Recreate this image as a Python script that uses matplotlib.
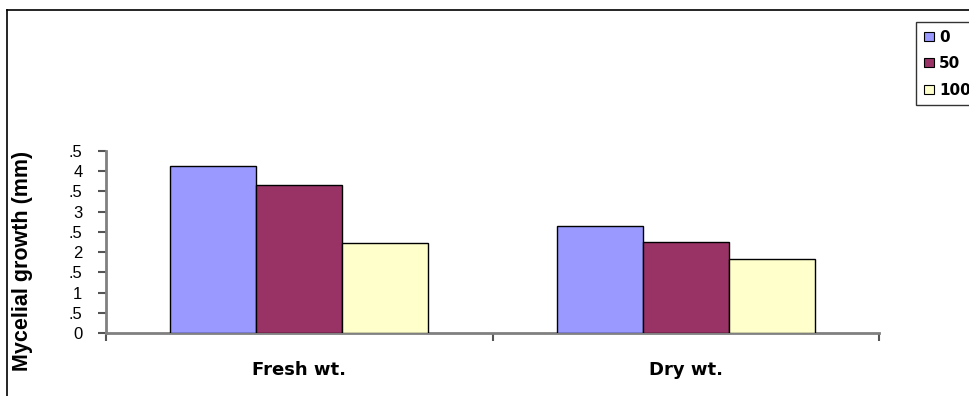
import matplotlib
matplotlib.use("Agg")
import matplotlib.pyplot as plt
from matplotlib.lines import Line2D
import numpy as np

# Data
categories = ["Fresh wt.", "Dry wt."]
series_names = ["0", "50", "100"]
values_0 = [4.13, 2.65]
values_50 = [3.66, 2.26]
values_100 = [2.23, 1.83]
ytick_values = [0, 0.5, 1, 1.5, 2, 2.5, 3, 3.5, 4, 4.5]
ytick_labels = ["0", ".5", "1", ".5", "2", ".5", "3", ".5", "4", ".5"]

colors = ["#9999FF", "#993366", "#FFFFCC"]
series = [values_0, values_50, values_100]

W, H = 969, 396
fig = plt.figure(figsize=(W / 100, H / 100), dpi=100)
fig.patch.set_facecolor("white")

ax = fig.add_axes([106 / W, 1 - 333 / H, (879 - 106) / W, (333 - 151) / H])

x = np.arange(len(categories))
bw = 0.2225
for i, (vals, c, name) in enumerate(zip(series, colors, series_names)):
    ax.bar(x + (i - 1) * bw, vals, width=bw, color=c, edgecolor="black",
           linewidth=1.0, label=name, zorder=3)

ax.set_xlim(-0.5, len(categories) - 0.5)
ax.set_ylim(0, 4.5)

for s in ["top", "right"]:
    ax.spines[s].set_visible(False)
for s in ["left", "bottom"]:
    ax.spines[s].set_color("#808080")
    ax.spines[s].set_linewidth(2.0)

ax.set_yticks(ytick_values)
ax.set_yticklabels(ytick_labels, fontsize=12, family="Liberation Sans")
ax.tick_params(axis="y", direction="out", length=6, width=1.5, color="#555555", pad=11)

ax.set_xticks(x)
ax.set_xticklabels(categories, fontsize=13, fontweight="bold", family="DejaVu Sans")
ax.tick_params(axis="x", which="major", length=0, pad=20)
ax.set_xticks(np.arange(-0.5, len(categories), 1.0), minor=True)
ax.tick_params(axis="x", which="minor", direction="out", length=6, width=1.5, color="#555555")

# Axis title
fig.text(23 / W, 1 - 261 / H, "Mycelial growth (mm)", rotation=90,
         ha="center", va="center", fontsize=15.5, fontweight="bold",
         family="Liberation Sans")

# Legend
handles = [plt.Rectangle((0, 0), 1, 1, facecolor=c, edgecolor="black", linewidth=0.8)
           for c in colors]
leg = fig.legend(handles, series_names, loc="upper left",
                 bbox_to_anchor=(916 / W, 1 - 22 / H),
                 frameon=True, fancybox=False, edgecolor="black",
                 prop={"family": "DejaVu Sans", "weight": "bold", "size": 11},
                 handlelength=0.7, handleheight=0.55, handletextpad=0.3,
                 labelspacing=0.75, borderpad=0.5, borderaxespad=0)
leg.get_frame().set_linewidth(1.0)

# Outer frame
fig.add_artist(Line2D([7 / W, 7 / W], [0, 1 - 10 / H], transform=fig.transFigure,
                      color="black", linewidth=1.2))
fig.add_artist(Line2D([7 / W, 1], [1 - 10 / H, 1 - 10 / H], transform=fig.transFigure,
                      color="black", linewidth=1.2))

fig.savefig("out.png", dpi=100)
